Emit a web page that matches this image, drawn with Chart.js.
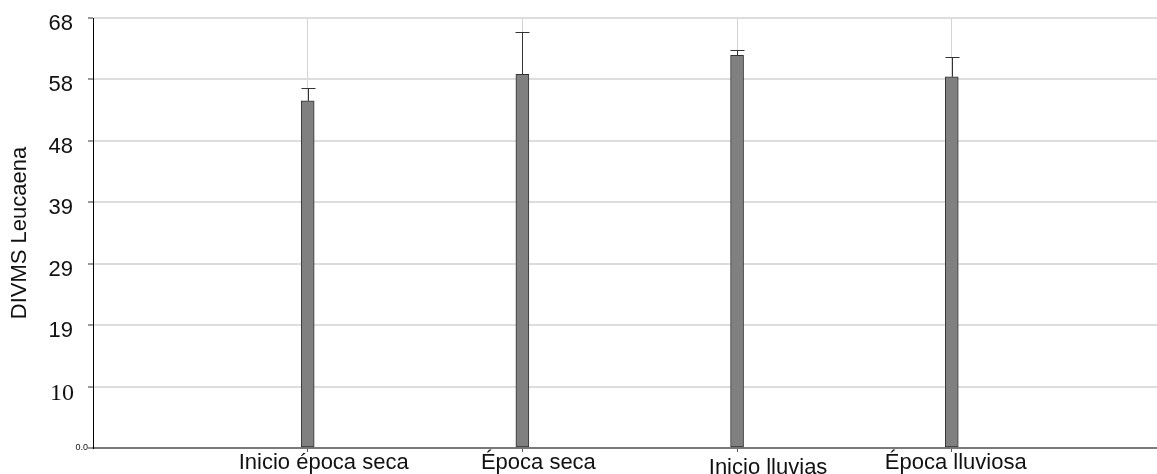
<!DOCTYPE html>
<html>
<head>
<meta charset="utf-8">
<title>DIVMS Leucaena</title>
<script src="https://cdn.jsdelivr.net/npm/chart.js@4/dist/chart.umd.min.js"></script>
<style>
  html, body { margin: 0; padding: 0; background: #ffffff; }
  #wrap { width: 1157px; height: 474px; }
</style>
</head>
<body>
<div id="wrap"><canvas id="chart" width="1157" height="474"></canvas></div>
<script>
// Periods along the x axis
const categories = ['Inicio época seca', 'Época seca', 'Inicio lluvias', 'Época lluviosa'];
// Mean DIVMS per period and its upper error
const means = [54.9, 59.1, 62.1, 58.7];
const errors = [2.1, 6.7, 0.9, 3.1];
// Y axis ticks (seven equal steps up to 68) and their printed labels
const yTickValues = [0, 9.714, 19.429, 29.143, 38.857, 48.571, 58.286, 68];
const yTickLabels = ['0.0', '10', '19', '29', '39', '48', '58', '68'];

const FONT = '"Liberation Sans", Arial, sans-serif';
const SERIF = '"Liberation Serif", "Times New Roman", serif';

// Per-label typography of the y axis
function yLabelStyle(i) {
  if (i === 0) return { font: '9px ' + FONT, x: 88, dy: 0 };
  if (yTickLabels[i] === '10') return { font: '24px ' + SERIF, x: 74, dy: 7 };
  return { font: '22px ' + FONT, x: 73, dy: 6 };
}
// Placement of the category names under the axis
const xLabelShift = [16, 16, 31, 4];
const xLabelBaseline = [21, 21, 26, 21];

const points = categories.map((c, i) => ({ x: i + 1, y: means[i] }));

const errorBars = {
  id: 'errorBars',
  afterDatasetsDraw(chart) {
    const ctx = chart.ctx;
    const meta = chart.getDatasetMeta(0);
    const ys = chart.scales.y;
    ctx.save();
    ctx.strokeStyle = '#333333';
    ctx.lineWidth = 1;
    meta.data.forEach((bar, i) => {
      const x = Math.round(bar.x) + 0.5;
      const yTop = ys.getPixelForValue(means[i]);
      const yErr = Math.round(ys.getPixelForValue(means[i] + errors[i])) + 0.5;
      ctx.beginPath();
      ctx.moveTo(x, yTop);
      ctx.lineTo(x, yErr);
      ctx.moveTo(x - 7, yErr);
      ctx.lineTo(x + 7, yErr);
      ctx.stroke();
    });
    ctx.restore();
  }
};

const axisLabels = {
  id: 'axisLabels',
  afterDraw(chart) {
    const ctx = chart.ctx;
    const xs = chart.scales.x;
    const ys = chart.scales.y;
    ctx.save();
    ctx.fillStyle = '#111111';
    // y tick labels
    ctx.textAlign = 'right';
    ctx.textBaseline = 'middle';
    yTickValues.forEach((v, i) => {
      const st = yLabelStyle(i);
      ctx.font = st.font;
      ctx.fillText(yTickLabels[i], st.x, ys.getPixelForValue(v) + st.dy);
    });
    // category labels
    ctx.textAlign = 'center';
    ctx.textBaseline = 'alphabetic';
    ctx.font = '22px ' + FONT;
    categories.forEach((c, i) => {
      ctx.fillText(c, xs.getPixelForValue(i + 1) + xLabelShift[i], chart.chartArea.bottom + xLabelBaseline[i]);
    });
    ctx.restore();
  }
};

new Chart(document.getElementById('chart'), {
  type: 'bar',
  data: {
    datasets: [{
      label: 'DIVMS Leucaena',
      data: points,
      backgroundColor: '#808080',
      borderColor: '#333333',
      borderWidth: 1,
      barThickness: 13,
      borderSkipped: false
    }]
  },
  options: {
    responsive: false,
    animation: false,
    devicePixelRatio: 1,
    layout: { padding: { top: 18, right: 0, left: 0, bottom: 0 } },
    plugins: {
      legend: { display: false },
      tooltip: { enabled: false }
    },
    scales: {
      x: {
        type: 'linear',
        min: 0,
        max: 4.956,
        offset: false,
        afterBuildTicks(scale) {
          scale.ticks = categories.map((c, i) => ({ value: i + 1 }));
        },
        afterFit(scale) { scale.height = 26; },
        ticks: { display: false },
        grid: {
          offset: false,
          color: '#d4d4d4',
          lineWidth: 1,
          drawTicks: true,
          tickLength: 4,
          tickColor: '#555555'
        },
        border: { display: true, color: '#7a7a7a', width: 2 }
      },
      y: {
        type: 'linear',
        min: 0,
        max: 68,
        afterBuildTicks(scale) {
          scale.ticks = yTickValues.map(v => ({ value: v }));
        },
        afterFit(scale) { scale.width = 93; },
        ticks: { display: false },
        grid: {
          color: (c) => c.index === 0 ? 'rgba(0,0,0,0)' : '#dddddd',
          lineWidth: 2,
          drawTicks: true,
          tickLength: 5,
          tickColor: '#9a9a9a'
        },
        border: { display: true, color: '#000000', width: 1 },
        title: {
          display: true,
          text: 'DIVMS Leucaena',
          color: '#111111',
          font: { family: FONT, size: 22 },
          padding: { top: 7, bottom: 0 }
        }
      }
    }
  },
  plugins: [errorBars, axisLabels]
});
</script>
</body>
</html>
